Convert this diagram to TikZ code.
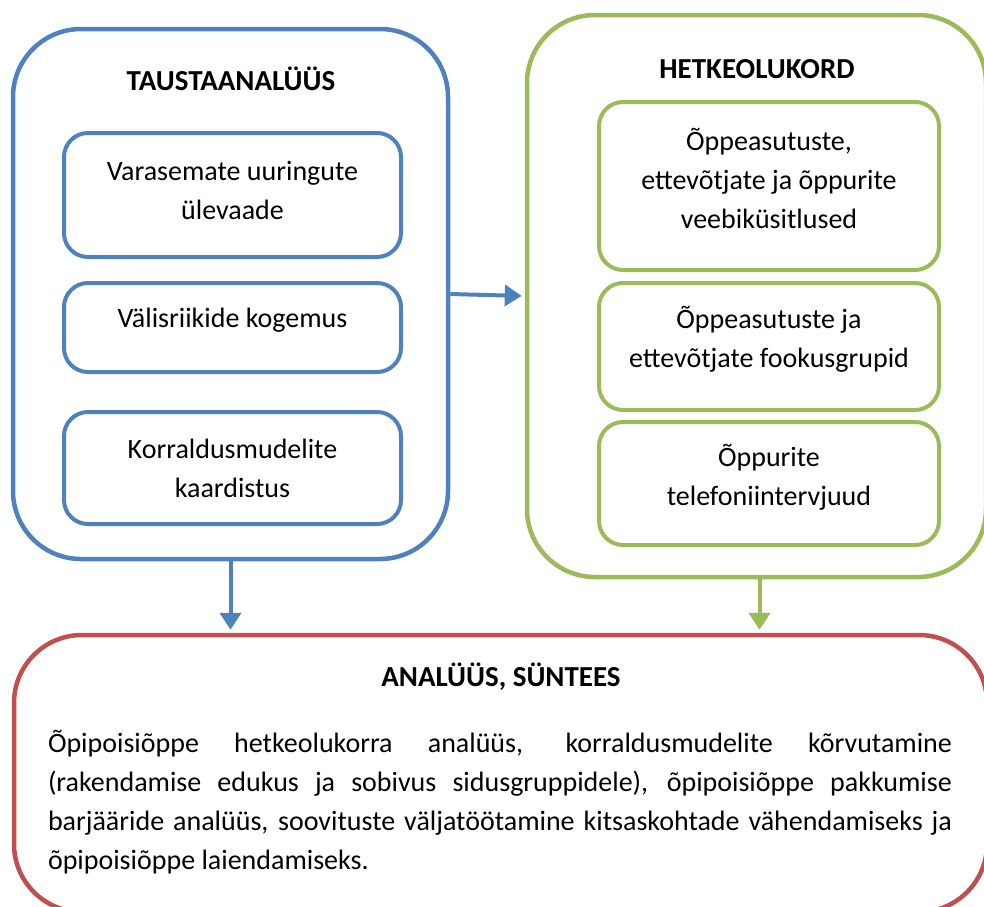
\documentclass[tikz,border=0pt]{standalone}
\usepackage{fontspec}
\setmainfont{Carlito}
\usetikzlibrary{arrows.meta}
\definecolor{cblue}{HTML}{4F81BD}
\definecolor{cgreen}{HTML}{9BBB59}
\definecolor{cred}{HTML}{C0504D}
\begin{document}
\begin{tikzpicture}[x=1pt,y=-1pt,
  every node/.style={font=\fontsize{28}{39}\selectfont, inner sep=0pt},
  outerbox/.style={draw=#1, line width=4.5pt, rounded corners=68pt},
  innerbox/.style={draw=#1, line width=4pt, rounded corners=24pt},
  boxtext/.style={align=center},
  titletext/.style={font=\fontsize{29}{39}\selectfont\bfseries},
  flow/.style={draw=#1, line width=4pt, -{Triangle[length=17pt,width=21pt]}, shorten >=3pt}
]
\useasboundingbox (0,0) rectangle (984,906);
\clip (0,0) rectangle (984,906);

% outer boxes
\node[outerbox=cblue, minimum width=435pt, minimum height=530pt] (blue) at (230.5,294) {};
\node[outerbox=cgreen, minimum width=459pt, minimum height=562pt] (green) at (756.5,296) {};
\node[outerbox=cred, minimum width=973pt, minimum height=277pt] (red) at (500.5,773.5) {};

% titles
\node[titletext] (t1) at (231,79) {TAUSTAANALÜÜS};
\node[titletext] (t2) at (757,69) {HETKEOLUKORD};
\node[titletext] (t3) at (501,677) {ANALÜÜS, SÜNTEES};

% blue inner boxes
\node[innerbox=cblue, minimum width=337pt, minimum height=124pt] (b1) at (232.5,195) {};
\node[innerbox=cblue, minimum width=337pt, minimum height=89pt] (b2) at (232.5,327.5) {};
\node[innerbox=cblue, minimum width=337pt, minimum height=112pt] (b3) at (232.5,468) {};
\node[boxtext] (b1t) at ([yshift=5pt]b1.center) {Varasemate uuringute\\ülevaade};
\node[boxtext] (b2t) at ([yshift=7pt]b2.center) {Välisriikide kogemus};
\node[boxtext] (b3t) at ([yshift=0pt]b3.center) {Korraldusmudelite\\kaardistus};

% green inner boxes
\node[innerbox=cgreen, minimum width=340pt, minimum height=168pt] (g1) at (769,186) {};
\node[innerbox=cgreen, minimum width=340pt, minimum height=127pt] (g2) at (769,346.5) {};
\node[innerbox=cgreen, minimum width=340pt, minimum height=123pt] (g3) at (769,483.5) {};
\node[boxtext] (g1t) at ([yshift=8pt]g1.center) {Õppeasutuste,\\ettevõtjate ja õppurite\\veebiküsitlused};
\node[boxtext] (g2t) at ([yshift=7pt]g2.center) {Õppeasutuste ja\\ettevõtjate fookusgrupid};
\node[boxtext] (g3t) at ([yshift=6pt]g3.center) {Õppurite\\telefoniintervjuud};

% paragraph
\node[text width=904pt, align=justify] (p) at (500,802) {Õpipoisiõppe hetkeolukorra analüüs, korraldusmudelite kõrvutamine\linebreak
(rakendamise edukus ja sobivus sidusgruppidele), õpipoisiõppe pakkumise\linebreak
barjääride analüüs, soovituste väljatöötamine kitsaskohtade vähendamiseks ja\linebreak
õpipoisiõppe laiendamiseks.};

% connectors
\draw[flow=cblue] (blue.east) -- (green.west);
\draw[flow=cblue] (blue.south) -- (blue.south |- red.north);
\draw[flow=cgreen] ([xshift=3pt]green.south) -- ([xshift=3pt]green.south |- red.north);
\end{tikzpicture}
\end{document}
